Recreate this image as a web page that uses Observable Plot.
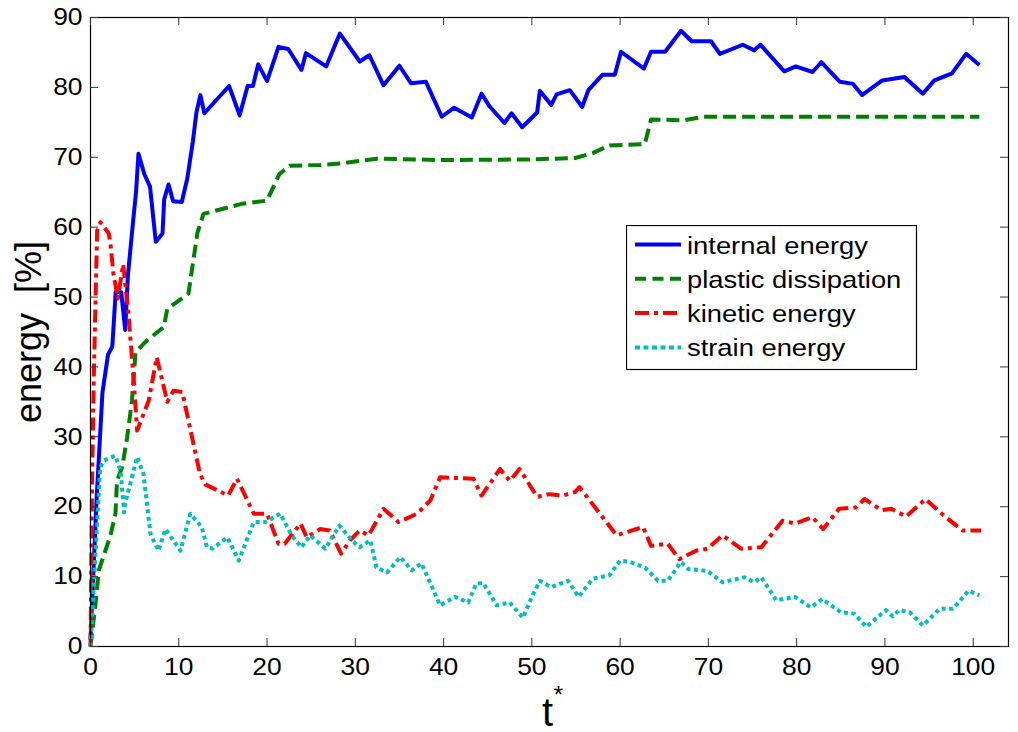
<!DOCTYPE html>
<html>
<head>
<meta charset="utf-8">
<script src="https://cdn.jsdelivr.net/npm/d3@7"></script>
<script src="https://cdn.jsdelivr.net/npm/@observablehq/plot@0.6"></script>
<style>
  html, body { margin: 0; padding: 0; background: #fff; }
  #wrap { position: relative; width: 1018px; height: 732px; }
  #legend { position: absolute; left: 626px; top: 225px; }
</style>
</head>
<body>
<div id="wrap"></div>
<script>
// ---- data: [t*, energy %] ----
const internalEnergy = [[0,1],[0.68,20.8],[1.35,36.3],[1.99,41.8],[2.47,42.9],[2.85,50.7],[3.48,50.7],[3.93,45.3],[4.23,53],[4.8,60.5],[5.17,65.2],[5.43,70.5],[6.1,67.6],[6.74,65.8],[7.4,57.9],[8.16,59.1],[8.35,64],[8.84,66.1],[9.36,63.7],[10.34,63.6],[10.97,67],[11.6,72.3],[12.0,76.4],[12.45,78.9],[12.9,76.3],[15.7,80.2],[16.9,76],[17.8,80.2],[18.4,80.2],[19.0,83.3],[20.0,80.9],[21.3,85.8],[22.4,85.5],[23.9,82.5],[24.4,84.9],[26.7,83.0],[28.25,87.7],[30.5,83.7],[31.6,84.6],[33.2,80.3],[35.0,83.1],[36.3,80.6],[38.0,80.8],[39.8,75.8],[41.2,77.1],[43.2,75.7],[44.3,79.1],[45.2,77.3],[46.9,74.9],[47.7,76.3],[48.9,74.3],[50.6,76.4],[50.9,79.5],[52.2,77.5],[52.8,79.0],[54.3,79.6],[55.7,77.2],[56.4,79.6],[58.0,81.8],[59.4,81.8],[60.1,85.1],[62.7,82.7],[63.5,85.1],[65.1,85.1],[66.9,88.1],[68.1,86.6],[70.3,86.6],[71.3,84.8],[73.9,86.1],[75.2,85.3],[75.9,86.1],[78.6,82.3],[79.9,83.0],[81.8,82.2],[82.8,83.6],[84.9,80.8],[86.4,80.5],[87.4,78.9],[89.7,81.0],[92.2,81.5],[94.3,79.1],[95.6,81.0],[97.6,82.0],[99.2,84.8],[100.7,83.2]];

const plasticDissipation = [[0,0],[0.57,6.1],[0.94,10.9],[1.5,13.0],[2.26,15.9],[2.83,19.0],[3.0,23.7],[3.6,25.7],[4.15,29.9],[4.7,35.2],[5.1,42.1],[6.4,43.8],[8.3,45.7],[8.7,48.3],[11.1,50.5],[12.1,59.1],[12.8,61.9],[17.0,63.3],[20.0,63.8],[21.4,67.6],[22.6,68.8],[26.0,68.9],[28.3,69.1],[32.4,69.8],[40,69.6],[50,69.7],[54.9,69.9],[56.9,70.6],[58.8,71.7],[62.8,71.9],[63.5,75.4],[67.3,75.3],[69.4,75.8],[100.7,75.8]];

const kineticEnergy = [[0,0],[0.2,26],[0.4,40],[0.75,59.5],[1.13,60.7],[2.07,59.1],[2.26,57.6],[2.6,53.3],[3.1,49.8],[3.7,54.7],[4.3,47.6],[4.9,38],[5.28,30.9],[6.6,35.2],[7.5,41.4],[8.7,35.0],[9.4,36.6],[10.4,36.4],[12.4,24.7],[13.0,23.2],[15.6,21.6],[16.6,24.0],[18.5,19.0],[20.0,19.0],[21.3,14.7],[22.0,14.7],[23.8,17.6],[24.5,15.6],[26.0,16.8],[27.1,16.6],[28.4,13.3],[29.4,15.2],[30.5,16.6],[31.5,15.9],[33.2,19.7],[34.9,17.8],[37.0,19.0],[38.5,20.9],[39.6,24.2],[43.4,24.0],[44.3,21.6],[46.4,25.4],[47.5,23.7],[48.6,25.4],[50.6,21.4],[52.0,21.8],[53.5,21.6],[54.9,22.1],[55.4,22.8],[59.6,15.9],[62.6,17.1],[63.5,14.4],[65.4,14.7],[66.7,12.5],[68.6,13.7],[69.9,14.0],[71.6,15.9],[73.7,14.0],[76.0,14.2],[78.4,18.0],[79.8,17.6],[81.8,18.5],[83.0,16.8],[84.8,19.7],[86.7,19.9],[87.7,21.1],[89.6,19.5],[90.7,19.7],[92.4,18.6],[94.6,21.1],[96.7,18.7],[98.8,16.6],[100.9,16.6]];

const strainEnergy = [[0,0],[0.57,13.3],[1.1,25.6],[1.5,26.6],[2.8,27.3],[3.4,25.2],[3.8,19.2],[3.96,20.6],[5.28,27.1],[6.0,24.7],[6.8,16.1],[7.7,13.7],[8.5,16.8],[10.2,13.7],[11.3,19.0],[12.6,17.1],[13.2,14.2],[13.8,14.0],[15.5,15.6],[16.8,12.3],[18.5,17.8],[19.8,17.8],[21.5,19.0],[22.8,15.9],[23.9,14.2],[24.9,15.9],[26.6,14.0],[28.2,17.3],[29.6,15.2],[30.5,14.2],[31.7,15.2],[32.4,11.3],[33.6,10.6],[35.1,12.8],[36.4,10.9],[37.5,11.9],[39.6,5.9],[41.3,7.1],[42.8,6.3],[43.7,9.0],[44.5,9.1],[46.0,5.9],[47.5,6.3],[49.0,4.1],[50.0,7.1],[50.9,9.4],[52.2,8.5],[54.1,9.4],[55.3,7.1],[56.9,9.7],[58.8,10.2],[60.0,12.3],[61.1,12.1],[62.8,11.3],[64.3,9.4],[65.4,9.4],[66.9,12.1],[67.7,11.1],[69.9,10.8],[71.6,9.2],[74.1,9.9],[75.2,9.2],[76.0,9.9],[77.7,6.6],[79.8,7.1],[81.6,5.6],[82.9,6.8],[85.0,4.9],[86.5,4.7],[87.9,2.8],[90.1,5.2],[90.9,4.3],[91.6,5.2],[92.8,4.9],[94.3,3.0],[96.2,5.4],[97.7,5.4],[99.5,8.0],[100.7,7.3]];

const seriesNames = ["internal energy", "plastic dissipation", "kinetic energy", "strain energy"];
const xTicks = [0, 10, 20, 30, 40, 50, 60, 70, 80, 90, 100];
const yTicks = [0, 10, 20, 30, 40, 50, 60, 70, 80, 90];
const xDomain = [0, 104];
const yDomain = [0, 90];
const yLabel = "energy\u00a0 [%]";
const xLabel = "t";
const xLabelSup = "*";

// ---- styles ----
const series = [
  {name: seriesNames[0], data: internalEnergy, color: "#0000ff", dash: null, legendDash: null},
  {name: seriesNames[1], data: plasticDissipation, color: "#008000", dash: "13,6", legendDash: "11,6.5"},
  {name: seriesNames[2], data: kineticEnergy, color: "#ff0000", dash: "13,5,4,5", legendDash: "14,5,4,5"},
  {name: seriesNames[3], data: strainEnergy, color: "#00bfbf", dash: "4,3.5", legendDash: "5,3.5"}
];

const font = "'Liberation Sans', Arial, Helvetica, sans-serif";
const W = 1018, H = 732, mL = 90, mR = 10, mT = 17, mB = 86;
const fw = W - mL - mR, fh = H - mT - mB, tk = 8;

const lineMarks = series.map(s => Plot.line(s.data, {
  x: d => d[0], y: d => d[1], stroke: s.color, strokeWidth: 4,
  strokeDasharray: s.dash, strokeLinejoin: "round", strokeLinecap: "butt"
}));

const chart = Plot.plot({
  width: W, height: H,
  marginLeft: mL, marginRight: mR, marginTop: mT, marginBottom: mB,
  x: {domain: xDomain},
  y: {domain: yDomain},
  style: {fontFamily: font, background: "white", color: "black", overflow: "visible"},
  marks: [
    ...lineMarks,
    Plot.frame({stroke: "black", strokeWidth: 1.2}),
    // inward ticks, all four sides
    Plot.tickX(xTicks, {x: d => d, insetTop: fh - tk, stroke: "#333"}),
    Plot.tickX(xTicks, {x: d => d, insetBottom: fh - tk, stroke: "#333"}),
    Plot.tickY(yTicks, {y: d => d, insetRight: fw - tk, stroke: "#333"}),
    Plot.tickY(yTicks, {y: d => d, insetLeft: fw - tk, stroke: "#333"}),
    Plot.axisX(xTicks, {anchor: "bottom", tickSize: 0, tickPadding: 11, fontSize: 24, label: null, tickFormat: d => String(d)}),
    Plot.axisY(yTicks, {anchor: "left", tickSize: 0, tickPadding: 8, fontSize: 24, label: null, tickFormat: d => String(d)}),
    Plot.text([yLabel], {text: d => d, frameAnchor: "left", textAnchor: "middle", dx: -50, rotate: -90, lineAnchor: "bottom", fontSize: 36, fill: "black"}),
    Plot.text([xLabel], {text: d => d, frameAnchor: "bottom", textAnchor: "middle", dx: -2, dy: 79, lineAnchor: "bottom", fontSize: 40, fill: "black"}),
    Plot.text([xLabelSup], {text: d => d, frameAnchor: "bottom", textAnchor: "middle", dx: 9, dy: 56, lineAnchor: "bottom", fontSize: 24, fill: "black"})
  ]
});

// slight horizontal stretch of tick labels to match reference glyph widths
d3.select(chart).selectAll('g[aria-label="x-axis tick label"] text, g[aria-label="y-axis tick label"] text')
  .each(function() {
    const t = this.getAttribute("transform") || "";
    this.setAttribute("transform", t + " scale(1.1,1)");
  });

const wrap = document.getElementById("wrap");
wrap.appendChild(chart);

// ---- legend (inside the axes, top-right area) ----
const lw = 290, lh = 144, rowH = 34.3, row0 = 19.5;
const leg = d3.select(wrap).append("svg")
  .attr("id", "legend").attr("width", lw + 2).attr("height", lh + 2)
  .style("font-family", font);
leg.append("rect").attr("x", 0.5).attr("y", 0.5).attr("width", lw).attr("height", lh)
  .attr("fill", "white").attr("stroke", "black").attr("stroke-width", 1.2);
series.forEach((s, i) => {
  const cy = row0 + i * rowH;
  leg.append("line").attr("x1", 9).attr("x2", 55).attr("y1", cy).attr("y2", cy)
    .attr("stroke", s.color).attr("stroke-width", 4)
    .attr("stroke-dasharray", s.legendDash);
  leg.append("text").attr("transform", `translate(61,${cy + 9}) scale(1.14,1)`)
    .attr("font-size", 24).attr("fill", "black").text(s.name);
});
</script>
</body>
</html>
